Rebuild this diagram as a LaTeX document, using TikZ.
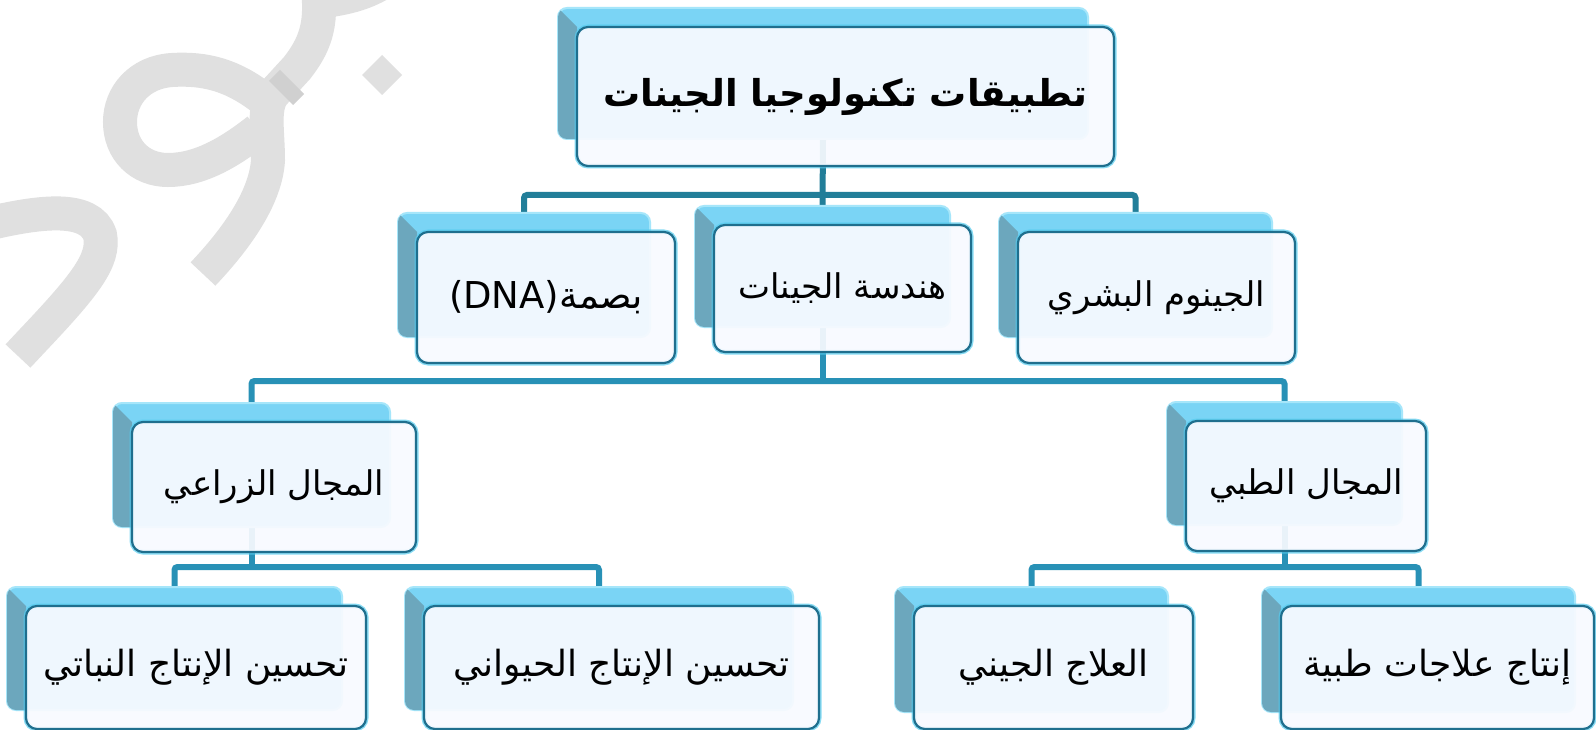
\documentclass[tikz,border=0pt]{standalone}
\usepackage{fontspec}
\newfontfamily\arabicfont[Script=Arabic]{DejaVu Sans}
\newfontfamily\latinfont{DejaVu Sans}
\TeXXeTstate=1
\usetikzlibrary{fit}
\pgfdeclarelayer{bg}
\pgfsetlayers{bg,main}
\definecolor{backblue}{HTML}{7AD4F5}
\definecolor{backedge}{HTML}{A6E6FA}
\definecolor{backdark}{HTML}{6CA7BD}
\definecolor{frontline}{HTML}{1F6F8E}
\definecolor{frontfill}{HTML}{F8FAFF}
\definecolor{glowc}{HTML}{55CCEF}
\definecolor{linkA}{HTML}{227E99}
\definecolor{linkB}{HTML}{2891B6}
\definecolor{wmc}{HTML}{E0E0E0}
\definecolor{wmdark}{HTML}{D0D0D0}
\tikzset{
  backbox/.style={rounded corners=9pt, fill=backblue, draw=backedge, line width=2pt, inner sep=0pt, outer sep=0pt},
  frontbox/.style={rounded corners=11pt, fill=frontfill, fill opacity=0.93, draw=frontline, draw opacity=1, line width=2.2pt, inner sep=0pt, outer sep=0pt,
    preaction={draw=glowc, line width=5pt, draw opacity=0.7}},
  txt/.style={inner sep=0pt, text=black},
  linkstyleA/.style={draw=linkA, line width=6pt, rounded corners=3pt},
  linkstyleB/.style={draw=linkB, line width=6pt, rounded corners=3pt},
  wmark/.style={draw=wmc, line width=34pt},
}
\newcommand\ar[1]{\arabicfont\beginR #1\endR}
% #1 name, #2 bx0, #3 by0, #4 bx1, #5 by1, #6 fx1, #7 fy1, #8 text
\newcommand\gbox[8]{%
  \node[backbox, fit={(#2,#3) (#4,#5)}] (#1B) {};
  \begin{scope}
    \clip[rounded corners=9pt] (#2,#3) rectangle (#4,#5);
    \fill[backdark] (#2,#3) -- (#2+19,#3+19) -- (#2+19,#5) -- (#2,#5) -- cycle;
  \end{scope}
  \node[frontbox, fit={(#2+19,#3+19) (#6,#7)}] (#1) {};
  \node[txt] (#1T) at (#1.center) {#8};
}
\begin{document}
\begin{tikzpicture}[x=1pt,y=-1pt]
\clip (0,0) rectangle (1596,730);
\begin{pgfonlayer}{bg}
\fill[white] (0,0) rectangle (1596,730);
% watermark
\draw[wmark] (318,-10) .. controls (322,25) and (315,45) .. (297,68) -- (275,92) .. controls (262,105) and (268,130) .. (268,160) .. controls (266,195) and (240,235) .. (203,274);
\draw[wmark] (318,2) .. controls (345,-2) and (370,-5) .. (400,-30);
\draw[wmark] (262,98) .. controls (232,75) and (205,68) .. (172,70) .. controls (140,72) and (120,95) .. (120,122) .. controls (120,150) and (140,170) .. (168,170) .. controls (200,170) and (230,152) .. (258,130);
\draw[draw=wmdark, line width=34pt] (292,82) -- (281,93);
\fill[wmc] (382,55) -- (402,75) -- (382,95) -- (362,75) -- cycle;
\draw[wmark] (-5,222) .. controls (40,212) and (90,205) .. (100,235) .. controls (105,260) and (85,285) .. (33,340) -- (18,356);
\end{pgfonlayer}
% boxes
\gbox{top}{558}{8}{1088}{139}{1114}{166}{\fontsize{37}{44}\selectfont\arabicfont\bfseries\beginR تطبيقات تكنولوجيا الجينات\endR}
\gbox{dna}{398}{213}{650}{337}{675}{363}{\fontsize{37}{44}\selectfont\latinfont (DNA)\ar{بصمة}}
\gbox{gen}{695}{206}{950}{327}{971}{352}{\fontsize{34}{40}\selectfont\ar{هندسة الجينات}}
\gbox{hum}{999}{213}{1272}{337}{1295}{363}{\fontsize{34}{40}\selectfont\ar{الجينوم البشري}}
\gbox{agr}{113}{403}{390}{527}{416}{552}{\fontsize{34}{40}\selectfont\ar{المجال الزراعي}}
\gbox{med}{1167}{402}{1402}{525}{1426}{551}{\fontsize{34}{40}\selectfont\ar{المجال الطبي}}
\gbox{pla}{7}{587}{342}{710}{366}{729}{\fontsize{36}{42}\selectfont\ar{تحسين الإنتاج النباتي}}
\gbox{ani}{405}{587}{793}{710}{819}{729}{\fontsize{36}{42}\selectfont\ar{تحسين الإنتاج الحيواني}}
\gbox{ther}{895}{587}{1168}{712}{1193}{729}{\fontsize{36}{42}\selectfont\ar{العلاج الجيني}}
\gbox{drug}{1262}{587}{1575}{712}{1594}{729}{\fontsize{36}{42}\selectfont\ar{إنتاج علاجات طبية}}
% connectors
\coordinate (L2) at (0,195);
\coordinate (L3) at (0,381);
\coordinate (L4) at (0,567);
\begin{pgfonlayer}{bg}
\draw[linkstyleA] (dnaB.north) |- (humB.north |- L2) -- (humB.north);
\draw[linkstyleA] (topB.south) -- (genB.north);
\draw[linkstyleB] (agrB.north) |- (medB.north |- L3) -- (medB.north);
\draw[linkstyleB] (genB.south) -- (genB.south |- L3);
\draw[linkstyleB] (plaB.north) |- (aniB.north |- L4) -- (aniB.north);
\draw[linkstyleB] (agrB.south) -- (agrB.south |- L4);
\draw[linkstyleB] (therB.north) |- (drugB.north |- L4) -- (drugB.north);
\draw[linkstyleB] (medB.south) -- (medB.south |- L4);
\end{pgfonlayer}
\end{tikzpicture}
\end{document}
